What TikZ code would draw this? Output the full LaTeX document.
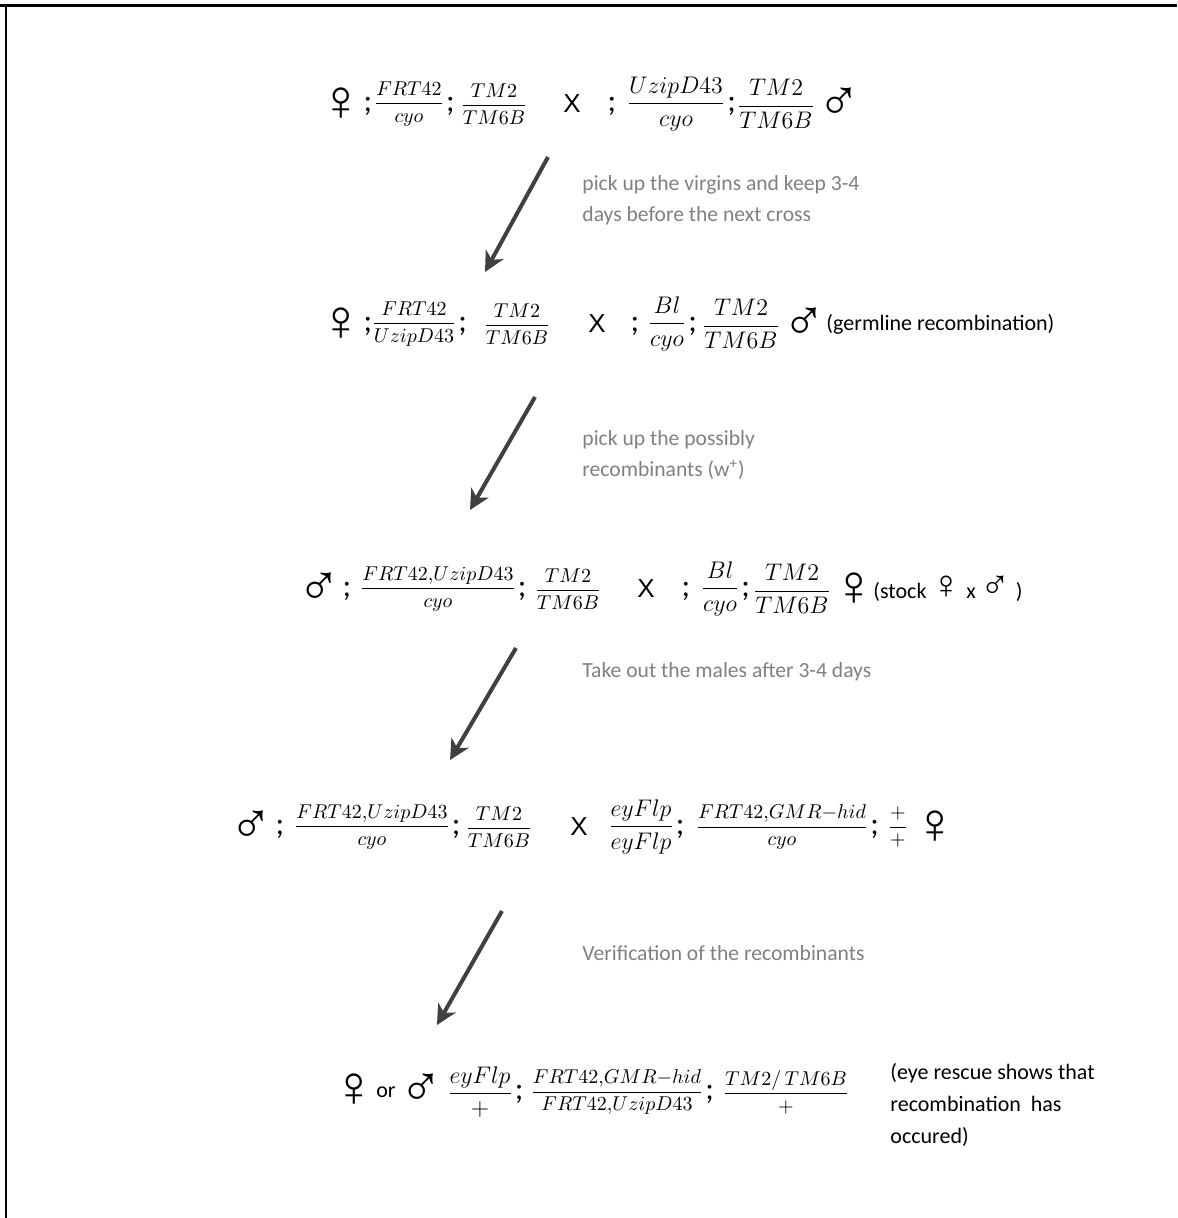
\RequirePackage{fix-cm}
\documentclass[tikz,border=0pt]{standalone}
\usepackage{amsmath}
\usepackage{fontspec}
\setmainfont{Carlito}
\newfontfamily\sexfont{Liberation Sans}
\newfontfamily\crossfont{Liberation Sans}
\usetikzlibrary{arrows.meta}
\definecolor{notegray}{RGB}{128,128,128}
\definecolor{arrowgray}{RGB}{64,64,64}
\begin{document}
\begin{tikzpicture}[x=0.5pt,y=-0.5pt,
  sex/.style={font=\sexfont\fontsize{29}{29}\selectfont,inner sep=0pt},
  cross/.style={font=\crossfont\fontsize{13}{13}\selectfont,inner sep=0pt},
  semi/.style={font=\fontsize{16}{16}\selectfont,inner sep=0.6pt,anchor=west,yshift=-1pt},
  sfrac/.style={font=\fontsize{10}{12}\selectfont,inner sep=0pt},
  bfrac/.style={font=\fontsize{12}{14}\selectfont,inner sep=0pt},
  note/.style={font=\fontsize{10.8}{15.5}\selectfont,text=notegray,align=left,anchor=west,inner sep=0pt},
  remark/.style={font=\fontsize{11}{16}\selectfont,align=left,anchor=west,inner sep=0pt},
  flow/.style={arrowgray,line width=2pt,-{Stealth[length=10pt,width=10pt,inset=3pt]}}]
  \useasboundingbox (0,0) rectangle (1177,1218);
  % frame
  \draw[line width=1.5pt] (0,6) -- (1177,6);
  \draw[line width=1pt] (6,6) -- (6,1218);
  % first cross
  \node[sex] (fa) at (341,104) {♀};
  \node[semi,anchor=center] (sa1) at (368,104) {;};
  \node[sfrac] (ga1) at (409,104) {$\dfrac{FRT42}{cyo}$};
  \node[semi] (sa2) at (ga1.east) {;};
  \node[sfrac] (ga2) at (494,104) {$\dfrac{TM2}{TM6B}$};
  \node[cross] (xa) at (572,104) {X};
  \node[semi,anchor=center] (sa3) at (612,104) {;};
  \node[bfrac] (ga3) at (676,104) {$\dfrac{UzipD43}{cyo}$};
  \node[semi] (sa4) at (ga3.east) {;};
  \node[bfrac] (ga4) at (776,104) {$\dfrac{TM2}{TM6B}$};
  \node[sex] (ma) at (839,104) {♂};
  % second cross
  \node[sex] (fb) at (341,324) {♀};
  \node[semi,anchor=center] (sb1) at (368,324) {;};
  \node[sfrac] (gb1) at (414,324) {$\dfrac{FRT42}{UzipD43}$};
  \node[semi] (sb2) at (gb1.east) {;};
  \node[sfrac] (gb2) at (517,324) {$\dfrac{TM2}{TM6B}$};
  \node[cross] (xb) at (597,324) {X};
  \node[semi,anchor=center] (sb3) at (635,324) {;};
  \node[bfrac] (gb3) at (667,324) {$\dfrac{Bl}{cyo}$};
  \node[semi] (sb4) at (gb3.east) {;};
  \node[bfrac] (gb4) at (741,324) {$\dfrac{TM2}{TM6B}$};
  \node[sex] (mb) at (804,324) {♂};
  \node[remark] (rb) at (826,324) {(germline recombination)};
  % third cross
  \node[sex] (mc) at (319,589) {♂};
  \node[semi,anchor=center] (sc1) at (347,589) {;};
  \node[sfrac] (gc1) at (438,589) {$\dfrac{FRT42{,}UzipD43}{cyo}$};
  \node[semi] (sc2) at (gc1.east) {;};
  \node[sfrac] (gc2) at (568,589) {$\dfrac{TM2}{TM6B}$};
  \node[cross] (xc) at (646,589) {X};
  \node[semi,anchor=center] (sc3) at (686,589) {;};
  \node[bfrac] (gc3) at (720,589) {$\dfrac{Bl}{cyo}$};
  \node[semi] (sc4) at (gc3.east) {;};
  \node[bfrac] (gc4) at (792,589) {$\dfrac{TM2}{TM6B}$};
  \node[sex] (fc) at (854,589) {♀};
  \node[remark] (rc) at (873,589) {(stock {\sexfont\fontsize{20}{16}\selectfont ♀} x {\sexfont\fontsize{20}{16}\selectfont ♂} )};
  % fourth cross
  \node[sex] (md) at (251,827) {♂};
  \node[semi,anchor=center] (sd1) at (280,827) {;};
  \node[sfrac] (gd1) at (372,827) {$\dfrac{FRT42{,}UzipD43}{cyo}$};
  \node[semi] (sd2) at (gd1.east) {;};
  \node[sfrac] (gd2) at (499,827) {$\dfrac{TM2}{TM6B}$};
  \node[cross] (xd) at (579,827) {X};
  \node[bfrac] (gd3) at (641,827) {$\dfrac{eyFlp}{eyFlp}$};
  \node[semi] (sd3) at (gd3.east) {;};
  \node[sfrac] (gd4) at (782,827) {$\dfrac{FRT42{,}GMR{-}hid}{cyo}$};
  \node[semi] (sd4) at (gd4.east) {;};
  \node[sfrac] (gd5) at (898,827) {$\dfrac{+}{+}$};
  \node[sex] (fd) at (935,827) {♀};
  % progeny
  \node[sex] (fe) at (354,1090) {♀};
  \node[remark,anchor=center] (oe) at (386,1092) {or};
  \node[sex] (me) at (421,1090) {♂};
  \node[bfrac] (ge1) at (480,1092) {$\dfrac{eyFlp}{+}$};
  \node[semi] (se1) at (ge1.east) {;};
  \node[sfrac] (ge2) at (617,1092) {$\dfrac{FRT42{,}GMR{-}hid}{FRT42{,}UzipD43}$};
  \node[semi] (se2) at (ge2.east) {;};
  \node[sfrac] (ge3) at (786,1092) {$\dfrac{TM2/\,TM6B}{+}$};
  \node[remark] (re) at (890,1105) {(eye rescue shows that\\recombination\ \ has\\occured)};
  % steps between the crosses
  \foreach \i/\sx/\sy/\ex/\ey in {1/548/157/485/272, 2/535/397/470/510,
                                  3/516/648/450/760, 4/502/911/437/1025} {
    \coordinate (top\i) at (\sx,\sy);
    \coordinate (tip\i) at (\ex,\ey);
    \draw[flow] (top\i) -- (tip\i);
  }
  \node[note] (n1) at (582,200) {pick up the virgins and keep 3-4\\days before the next cross};
  \node[note] (n2) at (582,455) {pick up the possibly\\recombinants (w\textsuperscript{+})};
  \node[note] (n3) at (582,672) {Take out the males after 3-4 days};
  \node[note] (n4) at (582,953) {Verification of the recombinants};
\end{tikzpicture}
\end{document}
